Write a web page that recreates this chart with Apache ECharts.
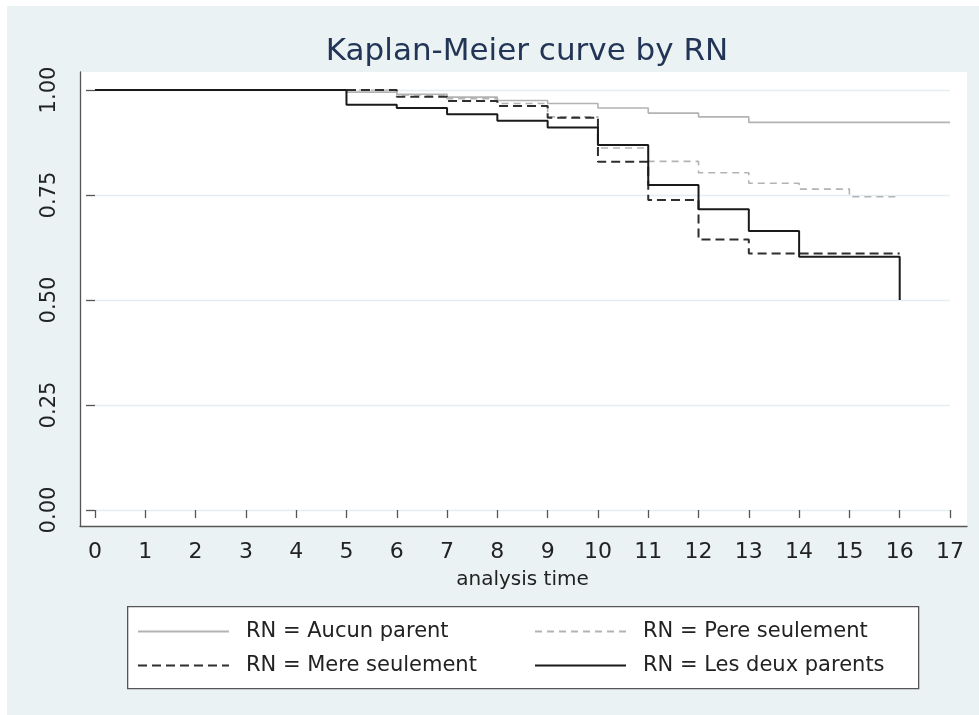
<!DOCTYPE html>
<html>
<head>
<meta charset="utf-8">
<script src="https://cdn.jsdelivr.net/npm/echarts@6/dist/echarts.min.js"></script>
<style>
html,body{margin:0;padding:0;background:#ffffff;}
#chart{width:979px;height:715px;}
</style>
</head>
<body>
<div id="chart"></div>
<script>
// ---- data ----
const xTicks = [0,1,2,3,4,5,6,7,8,9,10,11,12,13,14,15,16,17];
const yTicks = [0, 0.25, 0.5, 0.75, 1.0];

const aucunTimes = [0, 5, 6, 7, 8, 9, 10, 11, 12, 13, 17];
const aucunSurv  = [1.000, 0.995, 0.990, 0.983, 0.975, 0.968, 0.957, 0.945, 0.936, 0.923, 0.923];

const pereTimes = [0, 6, 7, 8, 9, 10, 11, 12, 13, 14, 15, 16];
const pereSurv  = [1.000, 0.988, 0.979, 0.968, 0.936, 0.862, 0.830, 0.803, 0.778, 0.764, 0.746, 0.746];

const mereTimes = [0, 6, 7, 8, 9, 10, 11, 12, 13, 16];
const mereSurv  = [1.000, 0.984, 0.974, 0.962, 0.934, 0.829, 0.738, 0.644, 0.611, 0.611];

const deuxTimes = [0, 5, 6, 7, 8, 9, 10, 11, 12, 13, 14, 16];
const deuxSurv  = [1.000, 0.965, 0.957, 0.942, 0.927, 0.911, 0.869, 0.774, 0.716, 0.664, 0.603, 0.500];

const seriesNames = ['RN = Aucun parent', 'RN = Pere seulement', 'RN = Mere seulement', 'RN = Les deux parents'];

function pairs(t, s){ return t.map((v,i)=>[v, s[i]]); }

const FONT = 'DejaVu Sans';
const chart = echarts.init(document.getElementById('chart'), null, {renderer:'canvas'});

const legendCommon = {
  orient: 'vertical', top: 621, padding: 0,
  itemWidth: 91, itemHeight: 14, itemGap: 13, selectedMode: false, z: 5,
  itemStyle: {opacity: 0, color: 'transparent', borderWidth: 0},
  textStyle: {fontFamily: FONT, fontSize: 21, color: '#222', padding: [0,0,0,12]}
};

const option = {
  animation: false,
  backgroundColor: '#eaf2f3',
  textStyle: {fontFamily: FONT},
  title: {
    text: 'Kaplan-Meier curve by RN',
    left: 522, top: 31, textAlign: 'center',
    textStyle: {fontFamily: FONT, fontSize: 31, fontWeight: 'normal', color: '#233556'}
  },
  graphic: [
    {type:'rect', left:0, top:0, shape:{width:979, height:6}, style:{fill:'#ffffff'}, silent:true, z:-10},
    {type:'rect', left:0, top:0, shape:{width:7, height:715}, style:{fill:'#ffffff'}, silent:true, z:-10},
    {type:'rect', left:127, top:606, shape:{width:791, height:82}, style:{fill:'#ffffff', stroke:'#555555', lineWidth:1.3}, silent:true, z:0}
  ],
  legend: [
    Object.assign({data: [seriesNames[0], seriesNames[2]], left: 137}, legendCommon),
    Object.assign({data: [seriesNames[1], seriesNames[3]], left: 534}, legendCommon)
  ],
  grid: [
    {left: 95, right: 29, top: 90, bottom: 205},
    {left: 80, right: 12, top: 72, bottom: 189, show: true, backgroundColor: '#ffffff', borderWidth: 0, z: -1}
  ],
  xAxis: [
    {
      gridIndex: 0, type: 'value', min: xTicks[0], max: xTicks[xTicks.length-1], interval: 1,
      offset: 16,
      axisLine: {show: false},
      axisTick: {show: true, length: 8, lineStyle: {color: '#555', width: 1.3}},
      axisLabel: {margin: 15, fontSize: 22, color: '#222', fontFamily: FONT},
      splitLine: {show: false},
      name: 'analysis time', nameLocation: 'middle', nameGap: 44,
      nameTextStyle: {fontSize: 20, color: '#222', fontFamily: FONT}
    },
    {
      gridIndex: 1, type: 'value', min: 0, max: 1,
      axisLine: {show: true, onZero: false, lineStyle: {color: '#555', width: 1.3}},
      axisTick: {show: false}, axisLabel: {show: false}, splitLine: {show: false}
    }
  ],
  yAxis: [
    {
      gridIndex: 0, type: 'value', min: yTicks[0], max: yTicks[yTicks.length-1], interval: 0.25,
      offset: 15,
      axisLine: {show: false},
      axisTick: {show: true, length: 9, lineStyle: {color: '#555', width: 1.3}},
      axisLabel: {rotate: 90, margin: 20, fontSize: 21, color: '#222', fontFamily: FONT,
                  formatter: v => v.toFixed(2)},
      splitLine: {show: true, lineStyle: {color: '#e4eef0', width: 1.3}}
    },
    {
      gridIndex: 1, type: 'value', min: 0, max: 1,
      axisLine: {show: true, onZero: false, lineStyle: {color: '#555', width: 1.3}},
      axisTick: {show: false}, axisLabel: {show: false}, splitLine: {show: false}
    }
  ],
  series: [
    {
      name: seriesNames[0], type: 'line', step: 'end', symbol: 'none',
      xAxisIndex: 0, yAxisIndex: 0, z: 2,
      color: '#b3b3b3',
      lineStyle: {color: '#b3b3b3', width: 1.6, type: 'solid'},
      data: pairs(aucunTimes, aucunSurv)
    },
    {
      name: seriesNames[1], type: 'line', step: 'end', symbol: 'none',
      xAxisIndex: 0, yAxisIndex: 0, z: 3,
      color: '#b3b3b3',
      lineStyle: {color: '#b3b3b3', width: 1.6, type: [7, 5]},
      data: pairs(pereTimes, pereSurv)
    },
    {
      name: seriesNames[2], type: 'line', step: 'end', symbol: 'none',
      xAxisIndex: 0, yAxisIndex: 0, z: 4,
      color: '#2e2e2e',
      lineStyle: {color: '#2e2e2e', width: 2, type: [9, 5]},
      data: pairs(mereTimes, mereSurv)
    },
    {
      name: seriesNames[3], type: 'line', step: 'end', symbol: 'none',
      xAxisIndex: 0, yAxisIndex: 0, z: 5,
      color: '#1a1a1a',
      lineStyle: {color: '#1a1a1a', width: 2, type: 'solid'},
      data: pairs(deuxTimes, deuxSurv)
    }
  ]
};
chart.setOption(option);
</script>
</body>
</html>
